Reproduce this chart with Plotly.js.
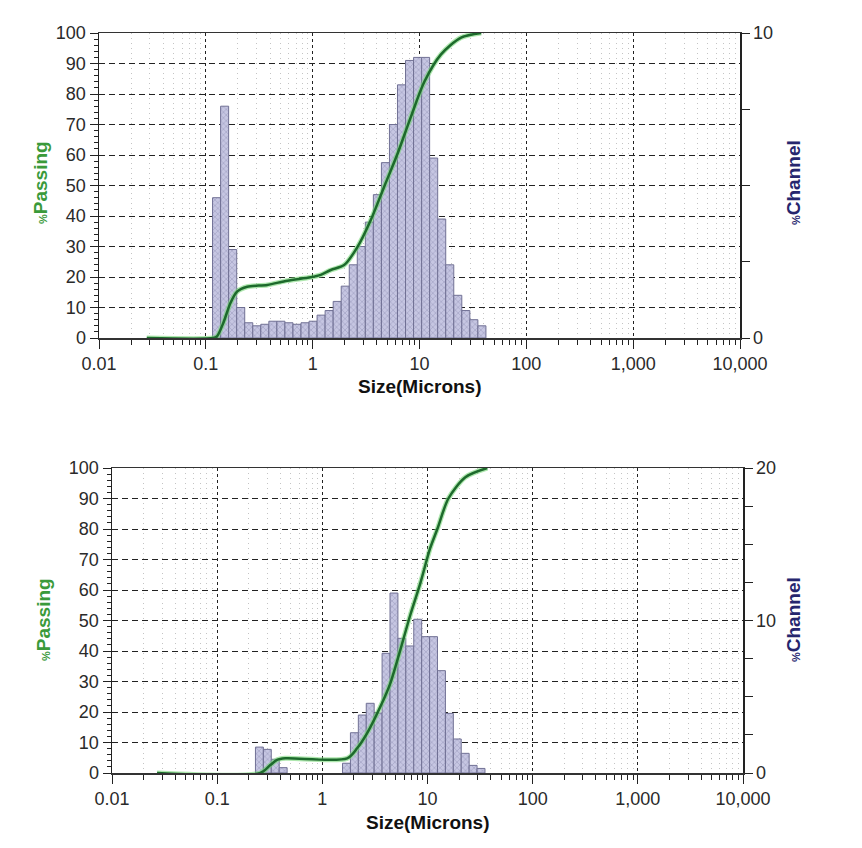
<!DOCTYPE html>
<html><head><meta charset="utf-8">
<script src="https://cdn.plot.ly/plotly-3.0.1.min.js"></script>
<style>html,body{margin:0;padding:0;background:#fff}</style>
</head><body><div id="chart" style="width:862px;height:848px"></div>
<script>
// Channel (bin) edges in microns
const channelEdges = [0.1156,0.1375,0.1635,0.1945,0.2312,0.2750,0.3270,0.3889,0.4625,0.5500,0.6541,0.7778,0.9250,1.100,1.308,1.556,1.850,2.200,2.616,3.111,3.700,4.400,5.232,6.222,7.400,8.800,10.47,12.44,14.80,17.60,20.93,24.89,29.60,35.20,41.86];
// % Channel, upper chart
const topChannel = [4.6,7.6,2.9,1.0,0.5,0.4,0.45,0.55,0.55,0.5,0.45,0.5,0.55,0.75,0.9,1.2,1.7,2.4,3.0,3.8,4.7,5.75,7.0,8.3,9.1,9.2,9.2,5.9,3.9,2.4,1.4,0.9,0.6,0.4];
// % Channel, lower chart
const bottomChannel = [0,0,0,0,1.7,1.55,0.9,0.35,0,0,0,0,0,0,0,0.64,2.64,3.8,4.57,3.93,7.85,11.8,8.83,8.33,10.08,8.94,8.94,6.71,3.91,2.23,1.29,0.5,0.3,0];
// % Passing curves
const topPassSize = [0.028,0.117,0.127,0.146,0.170,0.196,0.244,0.376,0.579,0.957,1.19,1.48,1.97,2.63,3.5,4.67,6.24,8.32,11.1,15.9,24.5,37.8];
const topPassPct  = [0,0,0.5,5,11.5,15.2,16.8,17.4,18.8,19.9,20.7,22.3,23.9,29.9,38.7,49.6,60.5,72.6,84,93,98.5,100];
const botPassSize = [0.0268,0.257,0.32,0.371,0.445,1.72,2.14,2.66,3.56,4.43,5.51,6.86,8.54,10.6,12.4,15.8,22.9,37];
const botPassPct  = [0,0,2.6,4.3,4.8,4.8,8.1,13,21.7,29.4,40.3,51.8,62.2,73.7,80,90,97,100];
// Tick labels
const xTickVals = [0.01,0.1,1,10,100,1000,10000];
const xTickText = ['0.01','0.1','1','10','100','1,000','10,000'];

function barData(vals){
  const x=[],w=[],y=[];
  vals.forEach((v,i)=>{ if(v>0){ const lo=channelEdges[i],hi=channelEdges[i+1]; x.push((lo+hi)/2); w.push(hi-lo); y.push(v);} });
  return {x,w,y};
}
const minorVals=[];
[0.01,0.1,1,10,100,1000].forEach(d=>{for(let k=2;k<=9;k++) minorVals.push(+(k*d).toPrecision(3));});

const W=862,H=848;
const font={family:'Liberation Sans, Arial, sans-serif',size:18,color:'#2a2a2a'};
const barStyle={color:'#bcbcdc',line:{color:'#707094',width:1},pattern:{shape:'x',size:4,solidity:0.18,fgcolor:'#8686ae',bgcolor:'#c6c6e2'}};

function xax(l,r,anchor){return {type:'log',domain:[l/W,r/W],range:[-2,4],anchor:anchor,
  tickvals:xTickVals,ticktext:xTickText,ticks:'outside',ticklen:9,tickcolor:'#222',tickfont:font,
  showline:true,linecolor:'#333',linewidth:1.5,mirror:true,
  showgrid:true,gridcolor:'#222',griddash:'3px,3px',gridwidth:1.2,zeroline:false,
  minor:{tickvals:minorVals,ticks:'outside',ticklen:5,tickcolor:'#222',showgrid:true,gridcolor:'#c4c4c4',griddash:'1px,4px',gridwidth:1}};}
function ybar(t,b,anchor,max){const tv=[],tt=[];for(let v=0;v<=max+1e-9;v+=2.5){tv.push(v);tt.push(v%10===0?String(v):'');}
  return {domain:[1-b/H,1-t/H],range:[0,max],side:'right',anchor:anchor,tickvals:tv,ticktext:tt,ticks:'outside',ticklen:8,tickcolor:'#222',
  tickfont:font,showline:true,linecolor:'#222',linewidth:1.5,showgrid:false,zeroline:false};}
function ypass(over,anchor){return {overlaying:over,side:'left',anchor:anchor,range:[0,100],dtick:10,ticks:'outside',ticklen:8,tickcolor:'#222',
  tickfont:font,showline:true,linecolor:'#222',linewidth:1.5,showgrid:true,gridcolor:'#222',griddash:'6px,4px',gridwidth:1,zeroline:false,
  minor:{dtick:2,ticks:'outside',ticklen:4,tickcolor:'#222'}};}

const tb=barData(topChannel), bb=barData(bottomChannel);
const halo={color:'rgba(120,215,120,0.6)',width:5,shape:'spline',smoothing:0.8};
const main={color:'#1d6a2c',width:2.5,shape:'spline',smoothing:0.8};
const traces=[
 {type:'bar',x:tb.x,y:tb.y,width:tb.w,xaxis:'x',yaxis:'y',marker:barStyle},
 {type:'scatter',mode:'lines',x:topPassSize,y:topPassPct,xaxis:'x',yaxis:'y2',line:halo},
 {type:'scatter',mode:'lines',x:topPassSize,y:topPassPct,xaxis:'x',yaxis:'y2',line:main},
 {type:'bar',x:bb.x,y:bb.y,width:bb.w,xaxis:'x2',yaxis:'y3',marker:barStyle},
 {type:'scatter',mode:'lines',x:botPassSize,y:botPassPct,xaxis:'x2',yaxis:'y4',line:halo},
 {type:'scatter',mode:'lines',x:botPassSize,y:botPassPct,xaxis:'x2',yaxis:'y4',line:main}
];
function ann(text,x,y,color,angle){return {text:text,x:x/W,y:1-y/H,xref:'paper',yref:'paper',showarrow:false,textangle:angle,xanchor:'center',yanchor:'middle',
  font:{family:'Liberation Sans, Arial, sans-serif',size:19,color:color}};}
const pass='<b><span style="font-size:11px">%</span>Passing</b>', chan='<b><span style="font-size:11px">%</span>Channel</b>', size='<b>Size(Microns)</b>';
const layout={width:W,height:H,margin:{l:0,r:0,t:0,b:0},paper_bgcolor:'#fff',plot_bgcolor:'#fff',showlegend:false,bargap:0,
 xaxis:xax(99,740,'y'), yaxis:ybar(33,338,'x',10), yaxis2:ypass('y','x'),
 xaxis2:xax(112,743,'y3'), yaxis3:ybar(468,773,'x2',20), yaxis4:ypass('y3','x2'),
 annotations:[ann(pass,40,183,'#3a9a3a',-90),ann(chan,793,183,'#26266e',-90),ann(size,419.5,386,'#111',0),
   ann(pass,43,620,'#3a9a3a',-90),ann(chan,793,620,'#26266e',-90),ann(size,427.5,822,'#111',0)]};
Plotly.newPlot('chart',traces,layout,{staticPlot:true});
</script></body></html>
